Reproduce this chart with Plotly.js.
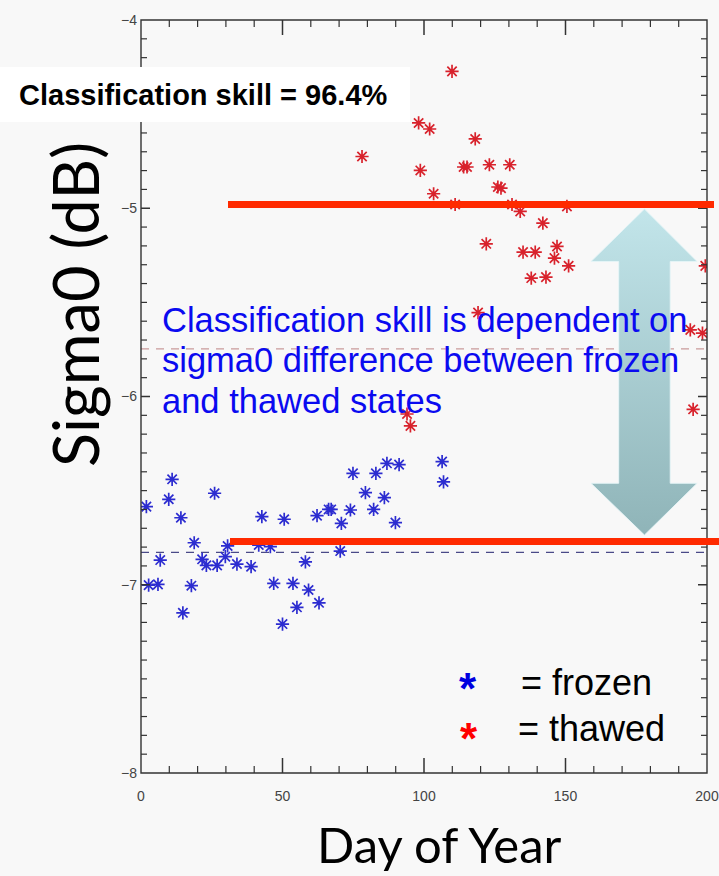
<!DOCTYPE html>
<html>
<head>
<meta charset="utf-8">
<script src="https://cdn.plot.ly/plotly-3.0.1.min.js"></script>
<style>html,body{margin:0;padding:0;background:#f8f8f8;}</style>
</head>
<body>
<div id="chart" style="width:719px;height:876px;"></div>
<script>
// ---- data ----
const frozenDay = [1.9, 2.7, 6.0, 6.8, 9.8, 11.0, 14.1, 14.8, 17.8, 18.8, 21.6, 23.1, 26.0, 26.9, 29.8, 30.6, 33.9, 38.9, 41.6, 42.7, 45.7, 46.9, 50.0, 50.6, 53.7, 55.1, 58.1, 59.2, 62.2, 62.9, 66.3, 67.2, 70.4, 70.8, 74.0, 74.9, 79.3, 82.2, 83.0, 86.0, 86.9, 89.9, 91.2, 106.4, 106.9];
const frozenSigma0 = [-6.585, -7.002, -6.998, -6.869, -6.546, -6.44, -6.644, -7.149, -7.005, -6.777, -6.865, -6.897, -6.514, -6.897, -6.851, -6.794, -6.89, -6.904, -6.789, -6.638, -6.798, -6.993, -7.209, -6.652, -6.993, -7.12, -6.878, -7.028, -6.633, -7.096, -6.6, -6.6, -6.821, -6.674, -6.603, -6.408, -6.511, -6.6, -6.408, -6.537, -6.355, -6.67, -6.362, -6.346, -6.454];
const thawedDay = [109.9, 78.1, 98.1, 102.0, 118.1, 98.7, 114.0, 115.2, 123.1, 130.3, 126.1, 127.2, 103.4, 111.0, 134.0, 131.1, 150.5, 142.0, 122.0, 135.0, 139.3, 147.0, 146.1, 151.1, 137.9, 143.1, 199.4, 119.1, 194.1, 198.4, 195.1, 94.0, 95.2];
const thawedSigma0 = [-4.273, -4.725, -4.547, -4.579, -4.632, -4.799, -4.781, -4.781, -4.769, -4.769, -4.887, -4.893, -4.923, -4.98, -5.017, -4.98, -4.99, -5.079, -5.189, -5.233, -5.233, -5.203, -5.265, -5.306, -5.371, -5.366, -5.306, -5.554, -5.646, -5.663, -6.068, -6.093, -6.156];
const meanLevels = [-6.828, -5.747];          // frozen mean, thawed mean (dashed)
const skillLevels = [-4.98, -6.77];           // red bars
const xTicks = [0, 50, 100, 150, 200];
const yTicks = [-8, -7, -6, -5, -4];
const legendLabels = ['= frozen', '= thawed'];
const noteLines = ['Classification skill is dependent on', 'sigma0 difference between frozen', 'and thawed states'];
const skillText = 'Classification skill = 96.4%';

// ---- figure ----
const W = 719, H = 876, L = 141, R = 12, T = 20, B = 103;
const pw = W - L - R, ph = H - T - B;
const px = v => (v - L) / pw;        // pixel x -> paper
const py = v => 1 - (v - T) / ph;    // pixel y -> paper

const traces = [
  {x: frozenDay, y: frozenSigma0, type: 'scatter', mode: 'markers', hoverinfo: 'skip',
   marker: {symbol: 'asterisk-open', size: 11, color: '#2c2cd0', line: {width: 1.7, color: '#2c2cd0'}}},
  {x: thawedDay, y: thawedSigma0, type: 'scatter', mode: 'markers', hoverinfo: 'skip',
   marker: {symbol: 'asterisk-open', size: 11, color: '#d8222c', line: {width: 1.7, color: '#d8222c'}}},
  // double-headed block arrow (decoration)
  {x: [177.9, 196.5, 187.0, 187.0, 196.5, 177.9, 159.0, 168.8, 168.8, 159.0, 177.9],
   y: [-5.004, -5.283, -5.283, -6.461, -6.461, -6.736, -6.461, -6.461, -5.283, -5.283, -5.004],
   type: 'scatter', mode: 'lines', fill: 'toself', hoverinfo: 'skip',
   line: {width: 1, color: 'rgba(230,245,247,0.9)'},
   fillgradient: {type: 'vertical', start: -6.736, stop: -5.004,
     colorscale: [[0, '#8fb4b8'], [1, '#c2e5ea']]}}
];

const shapes = [
  {type: 'line', xref: 'x', yref: 'y', x0: 0, x1: 200, y0: meanLevels[0], y1: meanLevels[0],
   line: {color: '#4a4a88', width: 1.3, dash: '8px,7px'}, layer: 'below'},
  {type: 'line', xref: 'x', yref: 'y', x0: 0, x1: 200, y0: meanLevels[1], y1: meanLevels[1],
   line: {color: '#c99a9a', width: 1.3, dash: '8px,7px'}, layer: 'below'},
  // axis frame
  {type: 'rect', xref: 'paper', yref: 'paper', x0: 0, x1: 1, y0: 0, y1: 1,
   line: {color: '#333', width: 1.4}, fillcolor: 'rgba(0,0,0,0)', layer: 'above'}
];

// inside tick marks on all four sides, placed on the axes' own scales
function xTick(v, len, w) {
  [[0, len], [1, -len]].forEach(([anchor, l]) => shapes.push({type: 'line', xref: 'x', yref: 'paper',
    ysizemode: 'pixel', yanchor: anchor, x0: v, x1: v, y0: 0, y1: l,
    line: {color: '#333', width: w}, layer: 'above'}));
}
function yTick(v, len, w) {
  [[0, len], [1, -len]].forEach(([anchor, l]) => shapes.push({type: 'line', xref: 'paper', yref: 'y',
    xsizemode: 'pixel', xanchor: anchor, y0: v, y1: v, x0: 0, x1: l,
    line: {color: '#333', width: w}, layer: 'above'}));
}
xTicks.forEach((v, i) => {
  if (i > 0 && i < xTicks.length - 1) xTick(v, 15, 1.5);
  if (i < xTicks.length - 1) {
    const step = (xTicks[i + 1] - v) / 5;
    for (let k = 1; k < 5; k++) xTick(v + k * step, 7, 1.2);
  }
});
yTicks.forEach((v, i) => {
  if (i > 0 && i < yTicks.length - 1) yTick(v, 9, 1.5);
  if (i < yTicks.length - 1) {
    const step = (yTicks[i + 1] - v) / 10;
    for (let k = 1; k < 10; k++) yTick(v + k * step, 6, 1.2);
  }
});

shapes.push(
  {type: 'line', xref: 'paper', yref: 'y', x0: px(228), x1: px(714), y0: skillLevels[0], y1: skillLevels[0],
   line: {color: '#ff2a00', width: 7}, layer: 'above'},
  {type: 'line', xref: 'paper', yref: 'y', x0: px(230), x1: px(719), y0: skillLevels[1], y1: skillLevels[1],
   line: {color: '#ff2a00', width: 7}, layer: 'above'},
  // white box behind skill text
  {type: 'rect', xref: 'paper', yref: 'paper', x0: px(0), x1: px(410), y0: py(122), y1: py(67),
   fillcolor: '#ffffff', line: {width: 0}, layer: 'above'}
);

const annotations = [
  {xref: 'paper', yref: 'paper', x: px(17), y: py(95), xanchor: 'left', yanchor: 'middle', showarrow: false,
   text: '<b>' + skillText + '</b>', font: {family: 'Liberation Sans, Arial, sans-serif', size: 29, color: '#000'}},
  {xref: 'paper', yref: 'paper', x: px(74), y: py(305), xanchor: 'center', yanchor: 'middle', showarrow: false,
   textangle: -90, text: 'Sigma0 (dB)', font: {family: 'Lato, sans-serif', size: 63, color: '#000'}},
  {xref: 'paper', yref: 'paper', x: px(439), y: py(844), xanchor: 'center', yanchor: 'middle', showarrow: false,
   text: 'Day of Year', font: {family: 'Lato, sans-serif', size: 49, color: '#000'}},
  {xref: 'paper', yref: 'paper', x: px(468), y: py(688), xanchor: 'center', yanchor: 'middle', showarrow: false,
   text: '<b>*</b>', font: {family: 'Liberation Sans, Arial, sans-serif', size: 44, color: '#0000e0'}},
  {xref: 'paper', yref: 'paper', x: px(469), y: py(738), xanchor: 'center', yanchor: 'middle', showarrow: false,
   text: '<b>*</b>', font: {family: 'Liberation Sans, Arial, sans-serif', size: 44, color: '#ff0000'}},
  {xref: 'paper', yref: 'paper', x: px(519), y: py(682), xanchor: 'left', yanchor: 'middle', showarrow: false,
   text: legendLabels[0], font: {family: 'Liberation Sans, Arial, sans-serif', size: 36, color: '#000'}},
  {xref: 'paper', yref: 'paper', x: px(516), y: py(728), xanchor: 'left', yanchor: 'middle', showarrow: false,
   text: legendLabels[1], font: {family: 'Liberation Sans, Arial, sans-serif', size: 36, color: '#000'}}
];
const noteY = [320, 360, 401];
noteLines.forEach((t, i) => annotations.push({
  xref: 'paper', yref: 'paper', x: px(160), y: py(noteY[i]), xanchor: 'left', yanchor: 'middle', showarrow: false,
  text: t, font: {family: 'Liberation Sans, Arial, sans-serif', size: 34.5, color: '#0a0af0'}}));

const axisCommon = {showgrid: false, zeroline: false, showline: false, ticks: '', fixedrange: true,
  tickfont: {family: 'Liberation Sans, Arial, sans-serif', size: 14, color: '#444'}};

const layout = {
  width: W, height: H, margin: {l: L, r: R, t: T, b: B}, showlegend: false,
  paper_bgcolor: '#f8f8f8', plot_bgcolor: '#f8f8f8',
  xaxis: Object.assign({}, axisCommon, {range: [0, 200], tickvals: xTicks, ticklabelstandoff: 13}),
  yaxis: Object.assign({}, axisCommon, {range: [-8, -4], tickvals: yTicks, ticklabelstandoff: 3}),
  shapes: shapes, annotations: annotations
};

Plotly.newPlot('chart', traces, layout, {displayModeBar: false, staticPlot: true});
</script>
</body>
</html>
